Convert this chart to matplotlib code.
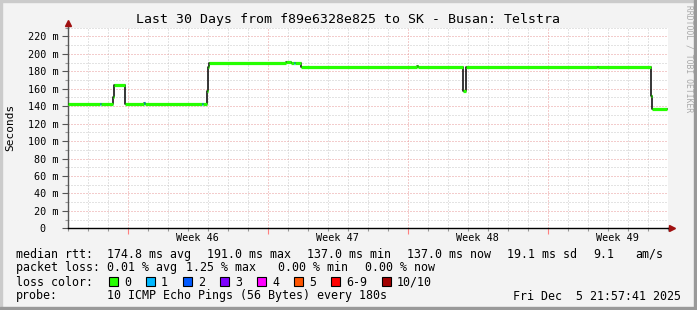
import matplotlib
matplotlib.use("Agg")
import matplotlib.pyplot as plt
from matplotlib.patches import Rectangle
from matplotlib.ticker import MultipleLocator, FixedLocator
from matplotlib.transforms import blended_transform_factory

W, H = 697, 310

# median rtt steps (day since start of graph, value in ms, loss bucket)
seg_start = [0.0, 1.60, 1.68, 2.24, 2.30, 2.86, 3.80, 3.86, 6.70, 6.76, 6.95, 7.00, 7.06,
             10.90, 11.18, 11.30, 11.36, 11.64, 17.45, 17.50, 19.78, 19.92, 26.45, 26.50,
             29.15, 29.20]
seg_value = [142, 143, 142, 151, 164, 142, 144, 142, 142, 142, 157, 185, 190,
             191, 189, 190, 189, 185.5, 186.5, 185.5, 157, 185.5, 184.5, 185.5,
             152, 137]
seg_loss = [0, 1, 0, 0, 0, 0, 1, 0, 1, 0, 0, 0, 0,
            0, 0, 1, 0, 0, 0, 0, 0, 0, 0, 0,
            0, 0]
t_end = 29.95

loss_labels = ["0", "1", "2", "3", "4", "5", "6-9", "10/10"]
loss_colors = ["#26ff00", "#00b8ff", "#0059ff", "#7e00ff", "#ff00ff", "#ff5500", "#ff0000", "#a10000"]
loss_x = [109, 146, 183, 220, 257, 294, 331, 382]

week_names = ["Week 46", "Week 47", "Week 48", "Week 49"]
week_lines = [3, 10, 17, 24]

title = "Last 30 Days from f89e6328e825 to SK - Busan: Telstra"
mono = "DejaVu Sans Mono"


def fx(x):
    return x / W


def fy(y):
    return 1 - y / H


fig = plt.figure(figsize=(W / 100, H / 100), dpi=100, facecolor="#f3f3f3")

# 3d-ish frame
fig.patches.append(Rectangle((0, fy(2)), 1, 2 / H, transform=fig.transFigure, color="#cbcbcb", zorder=0))
fig.patches.append(Rectangle((0, 0), 2 / W, 1, transform=fig.transFigure, color="#cbcbcb", zorder=0))
fig.patches.append(Rectangle((fx(694), 0), 3 / W, 1, transform=fig.transFigure, color="#999999", zorder=0))
fig.patches.append(Rectangle((0, 0), 1, 3 / H, transform=fig.transFigure, color="#999999", zorder=0))

x0, x1, ytop, ybot = 67.7, 667.7, 27.7, 228.3
ax = fig.add_axes([fx(x0), fy(ybot), (x1 - x0) / W, (ybot - ytop) / H])
ax.set_facecolor("white")
ax.set_xlim(0, 30)
ax.set_ylim(0, 230)

dots = (0, (1, 2))
ax.xaxis.set_major_locator(FixedLocator(week_lines))
ax.xaxis.set_minor_locator(MultipleLocator(1))
ax.yaxis.set_major_locator(MultipleLocator(20))
ax.yaxis.set_minor_locator(MultipleLocator(10))
ax.grid(which="minor", color="#c8c8c8", linestyle=dots, linewidth=0.72)
ax.grid(which="major", color="#e89a9a", linestyle=dots, linewidth=0.72)
ax.set_axisbelow(True)

ax.set_xticklabels([])
ylabels = []
for v in range(0, 240, 20):
    if v > 220:
        ylabels.append("")
    elif v == 0:
        ylabels.append("0  ")
    else:
        ylabels.append(f"{v} m")
ax.set_yticks(range(0, 240, 20))
ax.set_yticklabels(ylabels, fontfamily=mono, fontsize=7.3)
ax.tick_params(axis="y", which="major", length=4, width=0.8, color="#555555", pad=2.5)
ax.tick_params(axis="y", which="minor", length=2, width=0.8, color="#999999")
ax.tick_params(axis="x", which="major", length=4, width=0.8, color="#ff8080")
ax.tick_params(axis="x", which="minor", length=2, width=0.8, color="#999999")

for s in ["top", "right"]:
    ax.spines[s].set_visible(False)
ax.spines["left"].set_color("#555555")
ax.spines["left"].set_linewidth(1.0)
ax.spines["bottom"].set_color("black")
ax.spines["bottom"].set_linewidth(1.0)

# arrows on the axes
fig.add_artist(plt.Line2D([fx(x0), fx(x0)], [fy(ytop), fy(23)], color="#555555", lw=1.0))
fig.add_artist(plt.Line2D([fx(x1), fx(671)], [fy(ybot), fy(ybot)], color="black", lw=1.0))
fig.add_artist(plt.Line2D([fx(x0)], [fy(23)], marker="^", markersize=5, color="#a01010", lw=0))
fig.add_artist(plt.Line2D([fx(672)], [fy(ybot)], marker=">", markersize=5, color="#a01010", lw=0))

# median line: thin black step + thick coloured segments
xs = seg_start + [t_end]
ys = seg_value + [seg_value[-1]]
ax.step(xs, ys, where="post", color="black", lw=1.1, zorder=3)
seg_end = seg_start[1:] + [t_end]
ax.hlines(seg_value, seg_start, seg_end, colors=[loss_colors[i] for i in seg_loss],
          lw=2.3, zorder=4, capstyle="butt")

# week labels
tr = blended_transform_factory(ax.transData, fig.transFigure)
for name, w in zip(week_names, week_lines):
    ax.text(w + 3.5, fy(237.7), name, transform=tr, ha="center", va="center",
            fontfamily=mono, fontsize=7.3)

fig.text(fx(347.5), fy(19), title, ha="center", va="center", fontfamily=mono, fontsize=9.5)
fig.text(fx(10.5), fy(127), "Seconds", rotation=90, ha="center", va="center",
         fontfamily=mono, fontsize=8)
fig.text(fx(688.5), fy(59), "RRDTOOL / TOBI OETIKER", rotation=-90, ha="center", va="center",
         fontfamily=mono, fontsize=5.8, color="#a8a8a8")

fs = 8.4
rows = [
    (254.3, [(16, "median rtt:"), (107.3, "174.8 ms avg"), (207.3, "191.0 ms max"),
             (306.7, "137.0 ms min"), (406.7, "137.0 ms now"), (506.7, "19.1 ms sd"),
             (593.3, "9.1"), (635, "am/s")]),
    (267.7, [(16, "packet loss:"), (107.3, "0.01 % avg"), (186, "1.25 % max"),
             (278.3, "0.00 % min"), (365, "0.00 % now")]),
    (282.3, [(16, "loss color:")]),
    (296, [(16, "probe:"), (107.3, "10 ICMP Echo Pings (56 Bytes) every 180s"),
           (513.3, "Fri Dec  5 21:57:41 2025")]),
]
for y, parts in rows:
    for x, s in parts:
        fig.text(fx(x), fy(y), s, ha="left", va="center", fontfamily=mono, fontsize=fs)

for lab, col, x in zip(loss_labels, loss_colors, loss_x):
    fig.patches.append(Rectangle((fx(x), fy(286)), 9 / W, 9 / H, transform=fig.transFigure,
                                 facecolor=col, edgecolor="black", lw=0.8))
    fig.text(fx(x + 15), fy(282.3), lab, ha="left", va="center", fontfamily=mono, fontsize=fs)

fig.savefig("out.png", dpi=100, facecolor=fig.get_facecolor())
